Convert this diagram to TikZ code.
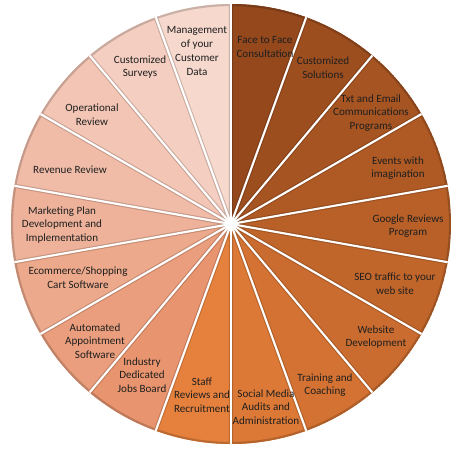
\documentclass[tikz,border=0pt]{standalone}
\usepackage{fontspec}
\setmainfont{Carlito}

\definecolor{sliceA}{HTML}{94481C}
\definecolor{sliceB}{HTML}{9D4E1F}
\definecolor{sliceC}{HTML}{A65422}
\definecolor{sliceD}{HTML}{AF5A25}
\definecolor{sliceE}{HTML}{B86028}
\definecolor{sliceF}{HTML}{C1662B}
\definecolor{sliceG}{HTML}{CA6C2F}
\definecolor{sliceH}{HTML}{D37232}
\definecolor{sliceI}{HTML}{DC7936}
\definecolor{sliceJ}{HTML}{E6813D}
\definecolor{sliceK}{HTML}{E8946E}
\definecolor{sliceL}{HTML}{EA9E7D}
\definecolor{sliceM}{HTML}{ECA98B}
\definecolor{sliceN}{HTML}{EEB29A}
\definecolor{sliceO}{HTML}{F0BCA8}
\definecolor{sliceP}{HTML}{F2C5B4}
\definecolor{sliceQ}{HTML}{F4CEC0}
\definecolor{sliceR}{HTML}{F6D8CD}

\newcommand{\rad}{4.4}
\newcommand{\pieslice}[3]{%
  \begin{scope}
    \clip (0,0) -- (#1:\rad) arc[start angle=#1, end angle=#2, radius=\rad] -- cycle;
    \fill[#3] (0,0) -- (#1:\rad) arc[start angle=#1, end angle=#2, radius=\rad] -- cycle;
    \draw[#3!82!black, line width=2.4pt] (0,0) -- (#1:\rad) arc[start angle=#1, end angle=#2, radius=\rad] -- cycle;
  \end{scope}}

\tikzset{
  label/.style={align=center, text=black!88, font=\fontsize{6.3}{7.8}\selectfont, inner sep=1pt},
  gap/.style={white, line width=1.2pt}
}

\begin{document}
\begin{tikzpicture}
  \useasboundingbox (-4.62,-4.52) rectangle (4.5,4.48);

  \pieslice{90}{70}{sliceA}
  \pieslice{70}{50}{sliceB}
  \pieslice{50}{30}{sliceC}
  \pieslice{30}{10}{sliceD}
  \pieslice{10}{-10}{sliceE}
  \pieslice{-10}{-30}{sliceF}
  \pieslice{-30}{-50}{sliceG}
  \pieslice{-50}{-70}{sliceH}
  \pieslice{-70}{-90}{sliceI}
  \pieslice{-90}{-110}{sliceJ}
  \pieslice{-110}{-130}{sliceK}
  \pieslice{-130}{-150}{sliceL}
  \pieslice{-150}{-170}{sliceM}
  \pieslice{-170}{-190}{sliceN}
  \pieslice{170}{150}{sliceO}
  \pieslice{150}{130}{sliceP}
  \pieslice{130}{110}{sliceQ}
  \pieslice{110}{90}{sliceR}

  \coordinate (centre) at (0,0);
  \foreach \a in {90,70,...,-250}
    \draw[gap] (centre) -- (\a:\rad);
  \fill[white] (centre) circle (0.07);

  \node[label] (face_label) at (0.68, 3.54) {Face to Face\\Consultation};
  \node[label] (solutions_label) at (1.84, 3.12) {Customized\\Solutions};
  \node[label] (txt_label) at (2.80, 2.22) {Txt and Email\\Communications\\Programs};
  \node[label] (events_label) at (3.34, 1.12) {Events with\\imagination};
  \node[label] (google_label) at (3.54, -0.04) {Google Reviews\\Program};
  \node[label] (seo_label) at (3.28, -1.20) {SEO traffic to your\\web site};
  \node[label] (website_label) at (2.90, -2.26) {Website\\Development};
  \node[label] (training_label) at (1.88, -3.22) {Training and\\Coaching};
  \node[label] (social_label) at (0.70, -3.66) {Social Media\\Audits and\\Administration};
  \node[label] (staff_label) at (-0.58, -3.42) {Staff\\Reviews and\\Recruitment};
  \node[label] (industry_label) at (-1.78, -3.02) {Industry\\Dedicated\\Jobs Board};
  \node[label] (automated_label) at (-2.72, -2.34) {Automated\\Appointment\\Software};
  \node[label] (ecommerce_label) at (-3.06, -1.08) {Ecommerce/Shopping\\Cart Software};
  \node[label] (marketing_label) at (-3.38, -0.02) {Marketing Plan\\Development and\\Implementation};
  \node[label] (revenue_label) at (-3.22, 1.08) {Revenue Review};
  \node[label] (operational_label) at (-2.78, 2.18) {Operational\\Review};
  \node[label] (surveys_label) at (-1.82, 3.14) {Customized\\Surveys};
  \node[label] (management_label) at (-0.68, 3.46) {Management\\of your\\Customer\\Data};

\end{tikzpicture}
\end{document}
